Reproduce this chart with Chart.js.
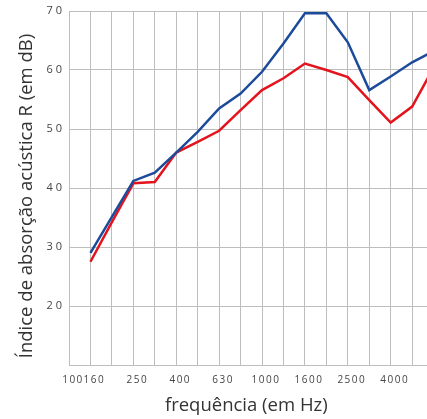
<!DOCTYPE html>
<html>
<head>
<meta charset="utf-8">
<script src="https://cdn.jsdelivr.net/npm/chart.js@4"></script>
<style>
  body { margin: 0; background: #fff; }
  #wrap { width: 427px; height: 419px; overflow: hidden; }
</style>
</head>
<body>
<div id="wrap"><canvas id="rw-chart" width="460" height="419"></canvas></div>
<script>
// third-octave bands (the first one sits on the axis, as in the original)
const freqs = ['100', '160', '200', '250', '315', '400', '500', '630', '800', '1000',
               '1250', '1600', '2000', '2500', '3150', '4000', '5000', '6300'];
const blue_vals = [null, 29.0, 35.1, 41.2, 42.6, 46.0, 49.5, 53.5, 56.0, 59.7,
                   64.5, 69.6, 69.6, 64.7, 56.6, 58.9, 61.3, 63.2];
const red_vals = [null, 27.5, 34.2, 40.8, 41.0, 46.0, 47.8, 49.7, 53.2, 56.6,
                  58.6, 61.1, 60.0, 58.8, 54.9, 51.1, 53.8, 60.4];

const grid_col = '#bdbdbd';

// tick labels in the original are letter-spaced, titles sit a bit off-centre
const axisTweaks = {
    id: 'axisTweaks',
    beforeDraw(chart) {
        const spacing = { x: '1.5px', y: '3px' };
        const shift = { x: [-5, 0], y: [0, 8] };
        for (const id in chart.scales) {
            const s = chart.scales[id];
            if (s._tweaked) continue;
            const origLabels = s.drawLabels;
            const origTitle = s.drawTitle;
            s.drawLabels = function (area) {
                chart.ctx.save();
                chart.ctx.letterSpacing = spacing[id] || '0px';
                origLabels.call(this, area);
                chart.ctx.restore();
            };
            s.drawTitle = function () {
                chart.ctx.save();
                chart.ctx.translate(shift[id][0], shift[id][1]);
                origTitle.call(this);
                chart.ctx.restore();
            };
            s._tweaked = true;
        }
    }
};

var ctx = document.getElementById('rw-chart');

const rw_chart = new Chart(ctx, {
    type: 'line',
    data: {
        labels: freqs,
        datasets: [{
            data: blue_vals,
            borderColor: '#1c4b9b',
            borderWidth: 2.5,
            tension: 0
        }, {
            data: red_vals,
            borderColor: '#e3141d',
            borderWidth: 2.5,
            tension: 0
        }]
    },
    options: {
        responsive: false,
        animation: false,
        layout: {
            padding: { top: 11, right: 26.4, bottom: 0, left: 0 }
        },
        elements: {
            point: {
                radius: 0
            }
        },
        plugins: {
            legend: { display: false },
            tooltip: { enabled: false }
        },
        scales: {
            x: {
                afterFit(s) { s.height = 54; },
                grid: { color: grid_col, drawTicks: false },
                border: { color: grid_col },
                ticks: {
                    autoSkip: false,
                    maxRotation: 0,
                    padding: 9,
                    labelOffset: 4,
                    color: '#444',
                    font: { family: 'Open Sans', size: 10 },
                    callback: function (v, i) {
                        return (i === 0 || (i % 2 === 1 && i < 17)) ? freqs[i] : '';
                    }
                },
                title: {
                    display: true,
                    text: 'frequência (em Hz)',
                    color: '#333',
                    font: { family: 'Open Sans', size: 18.5 },
                    padding: { top: 0, bottom: 2 }
                }
            },
            y: {
                min: 10,
                max: 70,
                afterFit(s) { s.width = 69; },
                grid: { color: grid_col, drawTicks: false },
                border: { color: grid_col },
                ticks: {
                    stepSize: 10,
                    padding: 4,
                    color: '#444',
                    font: { family: 'Open Sans', size: 11 },
                    callback: function (v) {
                        return v === 10 ? '' : v;
                    }
                },
                title: {
                    display: true,
                    text: 'Índice de absorção acústica R (em dB)',
                    color: '#333',
                    font: { family: 'Open Sans', size: 18.5 },
                    padding: { top: 16, bottom: 0 }
                }
            }
        }
    },
    plugins: [axisTweaks]
});
</script>
</body>
</html>
